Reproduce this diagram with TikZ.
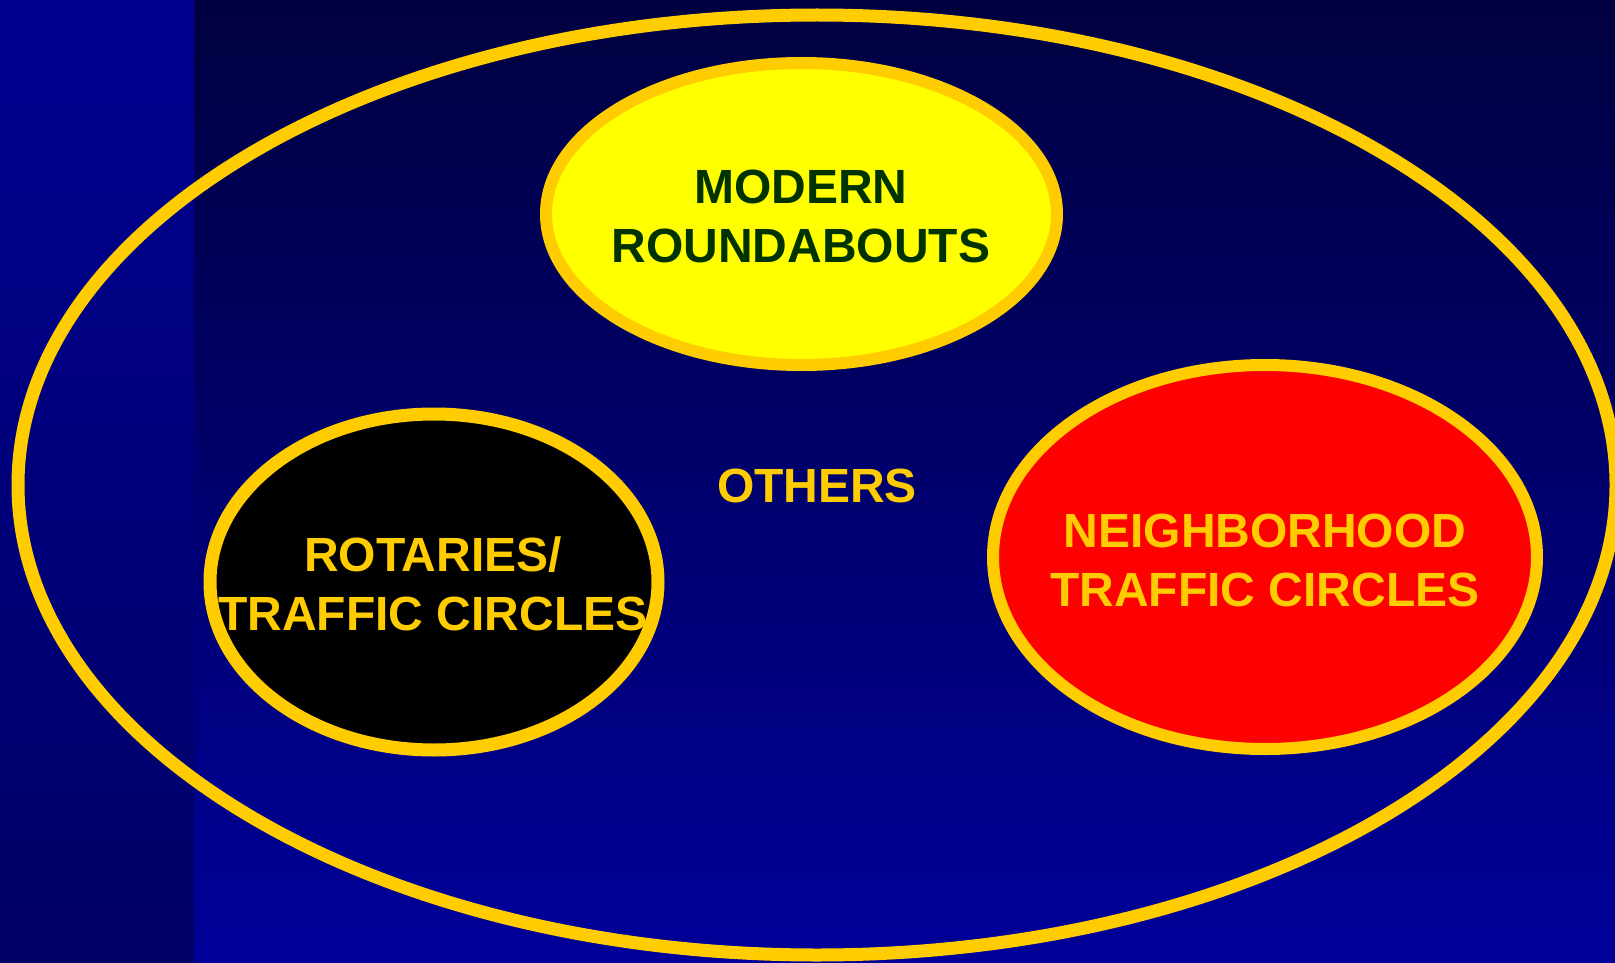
\documentclass[tikz,border=0pt]{standalone}
\usepackage{fontspec}
\setmainfont{Liberation Sans}
\usetikzlibrary{shapes.geometric}
\definecolor{gold}{HTML}{FFCC00}
\definecolor{lemon}{HTML}{FFFF00}
\definecolor{dkgreen}{HTML}{003300}
\definecolor{stripTop}{HTML}{000090}
\definecolor{stripBot}{HTML}{000066}
\definecolor{mainTop}{HTML}{000040}
\definecolor{mainBot}{HTML}{000099}
\tikzset{
  blob/.style={ellipse, draw=gold, inner sep=0pt},
  lbl/.style={inner sep=0pt, align=center, font=\bfseries\fontsize{48}{59}\selectfont}
}
\begin{document}
\begin{tikzpicture}[x=1pt,y=-1pt]
\useasboundingbox (0,0) rectangle (1615,963);
\clip (0,0) rectangle (1615,963);
\shade[top color=stripTop, bottom color=stripBot] (0,0) rectangle (194,963);
\shade[top color=mainTop, bottom color=mainBot] (194,0) rectangle (1615,963);
\node[blob, line width=13pt, minimum width=1598pt, minimum height=940pt] (all) at (817,485) {};
\node[blob, line width=12pt, fill=lemon, minimum width=511pt, minimum height=302pt] (mod) at (801.5,214) {};
\node[blob, line width=13pt, fill=black, minimum width=448pt, minimum height=336pt] (rot) at (434,582) {};
\node[blob, line width=12pt, fill=red, minimum width=544pt, minimum height=384pt] (nei) at (1265,557) {};
\node[lbl, text=dkgreen] (modt) at (801,216) {MODERN\\ROUNDABOUTS};
\node[lbl, text=gold] (rott) at (433,583.5) {ROTARIES/\\TRAFFIC CIRCLES};
\node[lbl, text=gold] (neit) at (1265,560) {NEIGHBORHOOD\\TRAFFIC CIRCLES};
\node[lbl, text=gold, anchor=base] (oth) at (817,502) {OTHERS};
\end{tikzpicture}
\end{document}
